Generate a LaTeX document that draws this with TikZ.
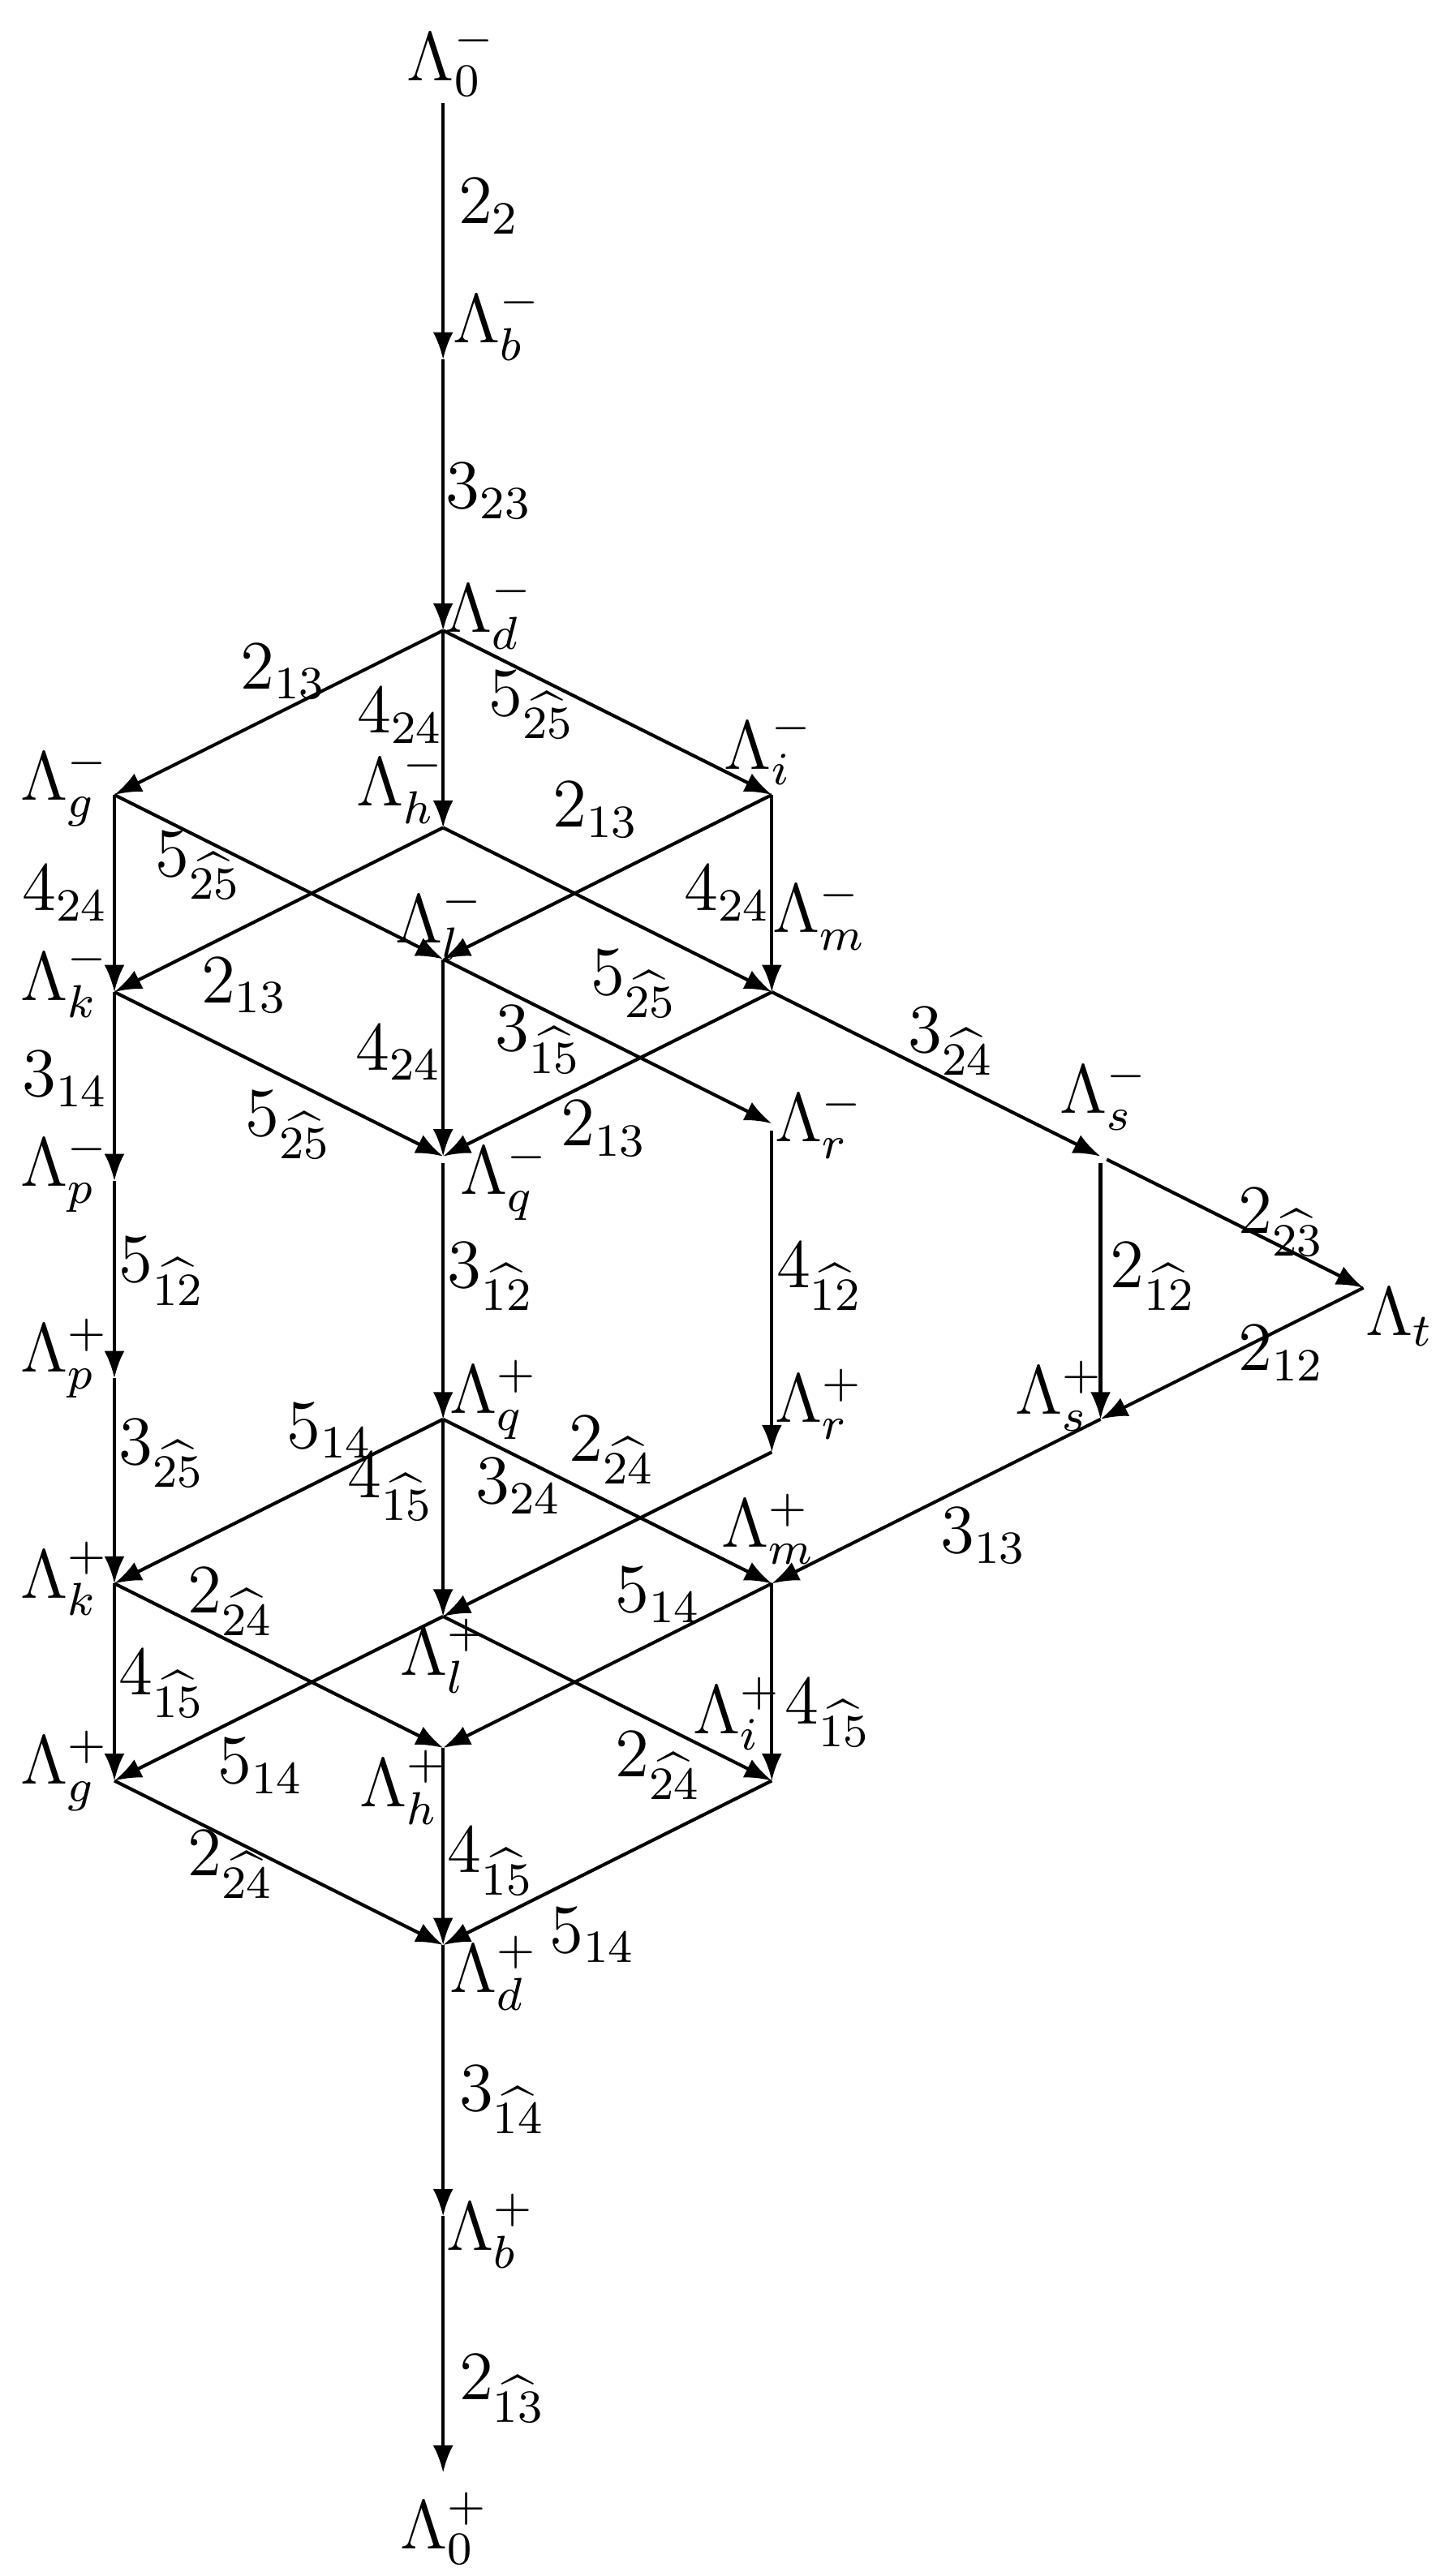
\documentclass[tikz,border=0pt]{standalone}
\usetikzlibrary{arrows.meta}
\begin{document}
\begin{tikzpicture}[x=1cm,y=1cm,
  arr/.style={line width=0.58pt,-{Latex[length=4.7pt,width=3.5pt]}},
  gapstart/.style={shorten <=1.2pt},
  lab/.style={inner sep=0pt,font=\fontsize{11.7}{14}\selectfont},
]
\useasboundingbox (-2.696,-11.84) rectangle (6.144,3.837);
% vertices
\coordinate (zm) at (0,3.21);
\coordinate (bm) at (0,1.65);
\coordinate (dm) at (0,0);
\coordinate (gm) at (-2,-1);
\coordinate (im) at (2,-1);
\coordinate (hm) at (0,-1.2);
\coordinate (km) at (-2,-2.2);
\coordinate (lm) at (0,-2);
\coordinate (mm) at (2,-2.2);
\coordinate (pm) at (-2,-3.35);
\coordinate (qm) at (0,-3.2);
\coordinate (rm) at (2,-3);
\coordinate (sm) at (4,-3.2);
\coordinate (t) at (5.6,-4);
\coordinate (pp) at (-2,-4.55);
\coordinate (qp) at (0,-4.8);
\coordinate (rp) at (2,-5);
\coordinate (sp) at (4,-4.8);
\coordinate (kp) at (-2,-5.8);
\coordinate (lp) at (0,-6);
\coordinate (mp) at (2,-5.8);
\coordinate (gp) at (-2,-7);
\coordinate (hp) at (0,-6.8);
\coordinate (ip) at (2,-7);
\coordinate (dp) at (0,-8);
\coordinate (bp) at (0,-9.65);
\coordinate (zp) at (0,-11.21);
% vertex labels
\node[lab] (Lzm) at (0.05,3.47) {$\Lambda_0^-$};
\node[lab] (Lbm) at (0.33,1.87) {$\Lambda_b^-$};
\node[lab] (Ldm) at (0.28,0.11) {$\Lambda_d^-$};
\node[lab] (Lim) at (1.98,-0.72) {$\Lambda_i^-$};
\node[lab] (Lgm) at (-2.30,-0.95) {$\Lambda_g^-$};
\node[lab] (Lhm) at (-0.26,-0.95) {$\Lambda_h^-$};
\node[lab] (Llm) at (-0.02,-1.78) {$\Lambda_l^-$};
\node[lab] (Lmm) at (2.29,-1.73) {$\Lambda_m^-$};
\node[lab] (Lkm) at (-2.30,-2.13) {$\Lambda_k^-$};
\node[lab] (Lrm) at (2.29,-3.0) {$\Lambda_r^-$};
\node[lab] (Lsm) at (4.02,-2.83) {$\Lambda_s^-$};
\node[lab] (Lpm) at (-2.30,-3.30) {$\Lambda_p^-$};
\node[lab] (Lqm) at (0.375,-3.35) {$\Lambda_q^-$};
\node[lab] (Lt) at (5.82,-4.18) {$\Lambda_t$};
\node[lab] (Lpp) at (-2.30,-4.43) {$\Lambda_p^+$};
\node[lab] (Lqp) at (0.31,-4.68) {$\Lambda_q^+$};
\node[lab] (Lrp) at (2.29,-4.71) {$\Lambda_r^+$};
\node[lab] (Lsp) at (3.75,-4.66) {$\Lambda_s^+$};
\node[lab] (Lmp) at (1.98,-5.47) {$\Lambda_m^+$};
\node[lab] (Lkp) at (-2.30,-5.77) {$\Lambda_k^+$};
\node[lab] (Llp) at (0.01,-6.24) {$\Lambda_l^+$};
\node[lab] (Lip) at (1.79,-6.59) {$\Lambda_i^+$};
\node[lab] (Lgp) at (-2.30,-6.94) {$\Lambda_g^+$};
\node[lab] (Lhp) at (-0.24,-7.04) {$\Lambda_h^+$};
\node[lab] (Ldp) at (0.31,-8.17) {$\Lambda_d^+$};
\node[lab] (Lbp) at (0.29,-9.74) {$\Lambda_b^+$};
\node[lab] (Lzp) at (0.01,-11.55) {$\Lambda_0^+$};
% edges
\draw[arr] (zm) -- (bm);
\draw[arr] (bm) -- (dm);
\draw[arr] (dm) -- (gm);
\draw[arr] (dm) -- (hm);
\draw[arr] (dm) -- (im);
\draw[arr] (gm) -- (km);
\draw[arr] (gm) -- (lm);
\draw[arr] (hm) -- (km);
\draw[arr] (hm) -- (mm);
\draw[arr] (im) -- (lm);
\draw[arr] (im) -- (mm);
\draw[arr] (km) -- (pm);
\draw[arr] (km) -- (qm);
\draw[arr] (lm) -- (qm);
\draw[arr] (lm) -- (rm);
\draw[arr] (mm) -- (qm);
\draw[arr] (mm) -- (sm);
\draw[arr] (pm) -- (pp);
\draw[arr,gapstart] (qm) -- (qp);
\draw[arr,gapstart] (rm) -- (rp);
\draw[arr,gapstart] (sm) -- (sp);
\draw[arr,gapstart] (sm) -- (t);
\draw[arr] (t) -- (sp);
\draw[arr] (pp) -- (kp);
\draw[arr] (qp) -- (kp);
\draw[arr] (qp) -- (lp);
\draw[arr] (qp) -- (mp);
\draw[arr] (rp) -- (lp);
\draw[arr] (sp) -- (mp);
\draw[arr] (kp) -- (gp);
\draw[arr] (kp) -- (hp);
\draw[arr] (lp) -- (gp);
\draw[arr] (lp) -- (ip);
\draw[arr] (mp) -- (hp);
\draw[arr] (mp) -- (ip);
\draw[arr] (gp) -- (dp);
\draw[arr] (hp) -- (dp);
\draw[arr] (ip) -- (dp);
\draw[arr] (dp) -- (bp);
\draw[arr] (bp) -- (zp);
% edge labels
\node[lab] (e1) at (0.28,2.58) {$2_{2}$};
\node[lab] (e2) at (0.28,0.85) {$3_{23}$};
\node[lab] (e3) at (-0.97,-0.25) {$2_{13}$};
\node[lab] (e4) at (-0.26,-0.52) {$4_{24}$};
\node[lab] (e5) at (0.54,-0.45) {$5_{\widehat{25}}$};
\node[lab] (e6) at (0.93,-1.09) {$2_{13}$};
\node[lab] (e7) at (-2.30,-1.60) {$4_{24}$};
\node[lab] (e8) at (-1.49,-1.43) {$5_{\widehat{25}}$};
\node[lab] (e9) at (1.73,-1.60) {$4_{24}$};
\node[lab] (e10) at (-1.21,-2.16) {$2_{13}$};
\node[lab] (e11) at (1.16,-2.15) {$5_{\widehat{25}}$};
\node[lab] (e12) at (-2.30,-2.73) {$3_{14}$};
\node[lab] (e13) at (-0.27,-2.57) {$4_{24}$};
\node[lab] (e14) at (0.58,-2.49) {$3_{\widehat{15}}$};
\node[lab] (e15) at (3.09,-2.50) {$3_{\widehat{24}}$};
\node[lab] (e16) at (-0.94,-3.01) {$5_{\widehat{25}}$};
\node[lab] (e17) at (0.98,-3.03) {$2_{13}$};
\node[lab] (e18) at (5.10,-3.60) {$2_{\widehat{23}}$};
\node[lab] (e19) at (-1.71,-3.90) {$5_{\widehat{12}}$};
\node[lab] (e20) at (0.29,-3.93) {$3_{\widehat{12}}$};
\node[lab] (e21) at (2.29,-3.93) {$4_{\widehat{12}}$};
\node[lab] (e22) at (4.32,-3.93) {$2_{\widehat{12}}$};
\node[lab] (e23) at (5.10,-4.40) {$2_{12}$};
\node[lab] (e24) at (-0.69,-4.87) {$5_{14}$};
\node[lab] (e25) at (1.03,-4.99) {$2_{\widehat{24}}$};
\node[lab] (e26) at (-1.71,-5.01) {$3_{\widehat{25}}$};
\node[lab] (e27) at (-0.32,-5.21) {$4_{\widehat{15}}$};
\node[lab] (e28) at (0.46,-5.21) {$3_{24}$};
\node[lab] (e29) at (3.29,-5.51) {$3_{13}$};
\node[lab] (e30) at (-1.29,-5.91) {$2_{\widehat{24}}$};
\node[lab] (e31) at (1.31,-5.87) {$5_{14}$};
\node[lab] (e32) at (2.34,-6.59) {$4_{\widehat{15}}$};
\node[lab] (e33) at (-1.71,-6.41) {$4_{\widehat{15}}$};
\node[lab] (e34) at (-1.11,-6.91) {$5_{14}$};
\node[lab] (e35) at (1.31,-6.91) {$2_{\widehat{24}}$};
\node[lab] (e36) at (-1.29,-7.51) {$2_{\widehat{24}}$};
\node[lab] (e37) at (0.29,-7.49) {$4_{\widehat{15}}$};
\node[lab] (e38) at (0.91,-7.94) {$5_{14}$};
\node[lab] (e39) at (0.36,-8.94) {$3_{\widehat{14}}$};
\node[lab] (e40) at (0.36,-10.70) {$2_{\widehat{13}}$};
\end{tikzpicture}
\end{document}
